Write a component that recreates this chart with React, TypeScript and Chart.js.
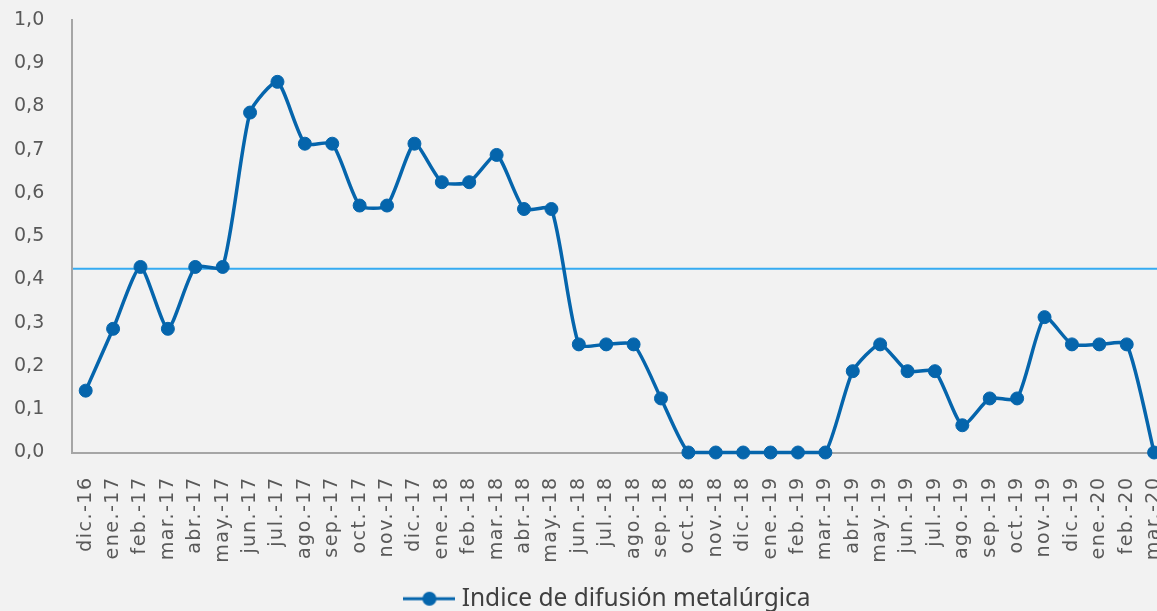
import React, { useEffect, useRef } from 'react';
import { Chart, registerables } from 'chart.js';

Chart.register(...registerables);

const categories = [
  'dic.-16', 'ene.-17', 'feb.-17', 'mar.-17', 'abr.-17', 'may.-17', 'jun.-17', 'jul.-17',
  'ago.-17', 'sep.-17', 'oct.-17', 'nov.-17', 'dic.-17', 'ene.-18', 'feb.-18', 'mar.-18',
  'abr.-18', 'may.-18', 'jun.-18', 'jul.-18', 'ago.-18', 'sep.-18', 'oct.-18', 'nov.-18',
  'dic.-18', 'ene.-19', 'feb.-19', 'mar.-19', 'abr.-19', 'may.-19', 'jun.-19', 'jul.-19',
  'ago.-19', 'sep.-19', 'oct.-19', 'nov.-19', 'dic.-19', 'ene.-20', 'feb.-20', 'mar.-20',
];

const indiceValues = [
  0.143, 0.286, 0.429, 0.286, 0.429, 0.429, 0.786, 0.857,
  0.714, 0.714, 0.571, 0.571, 0.714, 0.625, 0.625, 0.688,
  0.563, 0.563, 0.25, 0.25, 0.25, 0.125, 0, 0,
  0, 0, 0, 0, 0.188, 0.25, 0.188, 0.188,
  0.063, 0.125, 0.125, 0.313, 0.25, 0.25, 0.25, 0,
];

const seriesName = 'Indice de difusión metalúrgica';
const referenceValue = 0.425;
const yMin = 0;
const yMax = 1;
const yStep = 0.1;

const SERIES_COLOR = '#0565AC';
const REF_COLOR = '#35ABF2';
const AXIS_COLOR = '#A6A6A6';
const TICK_COLOR = '#595959';

const refLinePlugin = {
  id: 'refLine',
  beforeDatasetsDraw(chart: any) {
    const { ctx, chartArea, scales } = chart;
    const y = scales.y.getPixelForValue(referenceValue);
    ctx.save();
    ctx.strokeStyle = REF_COLOR;
    ctx.lineWidth = 2;
    ctx.beginPath();
    ctx.moveTo(chartArea.left + 1, y);
    ctx.lineTo(chartArea.right, y);
    ctx.stroke();
    ctx.restore();
  },
};

// widen the rotated category labels a little (Excel-like spacing) and centre the legend
const tweakPlugin = {
  id: 'tweaks',
  afterLayout(chart: any) {
    const sc = chart.scales.x;
    if (sc && !sc.__wrapped) {
      const orig = sc.drawLabels.bind(sc);
      sc.drawLabels = (area: any) => {
        const c = chart.ctx as any;
        const prev = c.letterSpacing;
        c.letterSpacing = '1.5px';
        orig(area);
        c.letterSpacing = prev || '0px';
      };
      sc.__wrapped = true;
    }
    const L = chart.legend;
    if (L) {
      const d = 610 - (L.left + L.right) / 2;
      L.left += d;
      L.right += d;
    }
  },
};

function makeLegendMarker(): HTMLCanvasElement {
  const c = document.createElement('canvas');
  c.width = 52;
  c.height = 16;
  const g = c.getContext('2d')!;
  g.strokeStyle = SERIES_COLOR;
  g.lineWidth = 3;
  g.beginPath();
  g.moveTo(0, 8);
  g.lineTo(52, 8);
  g.stroke();
  g.fillStyle = SERIES_COLOR;
  g.beginPath();
  g.arc(26, 8, 7, 0, Math.PI * 2);
  g.fill();
  return c;
}

export default function App() {
  const ref = useRef<HTMLCanvasElement | null>(null);

  useEffect(() => {
    if (!ref.current) return;
    const marker = makeLegendMarker();
    const chart = new Chart(ref.current, {
      type: 'line',
      data: {
        labels: categories,
        datasets: [
          {
            label: seriesName,
            data: indiceValues,
            borderColor: SERIES_COLOR,
            backgroundColor: SERIES_COLOR,
            borderWidth: 3.5,
            pointRadius: 6.5,
            pointBorderWidth: 1,
            pointBackgroundColor: SERIES_COLOR,
            pointBorderColor: SERIES_COLOR,
            tension: 0.2,
            clip: false as any,
            fill: false,
          },
        ],
      },
      options: {
        responsive: false,
        animation: false,
        devicePixelRatio: 1,
        layout: { padding: { left: 14, right: 0, top: 20, bottom: 0 } },
        plugins: {
          legend: {
            position: 'bottom',
            labels: {
              usePointStyle: true,
              pointStyle: marker as any,
              pointStyleWidth: 40,
              padding: 10,
              color: '#404040',
              font: { family: 'Noto Sans', size: 24.5 },
            },
          },
          tooltip: { enabled: false },
        },
        scales: {
          x: {
            offset: true,
            grid: { display: false, drawTicks: false },
            border: { display: true, color: AXIS_COLOR, width: 2 },
            ticks: {
              autoSkip: false,
              minRotation: 90,
              maxRotation: 90,
              padding: 24,
              color: TICK_COLOR,
              font: { family: 'DejaVu Sans', size: 19 },
            },
            afterFit(scale: any) {
              scale.height = 124;
            },
          },
          y: {
            min: yMin,
            max: yMax,
            grid: { display: false, drawTicks: false },
            border: { display: true, color: AXIS_COLOR, width: 2 },
            ticks: {
              stepSize: yStep,
              padding: 3,
              crossAlign: 'far',
              color: TICK_COLOR,
              font: { family: 'DejaVu Sans', size: 19 },
              callback: (v: any) => Number(v).toFixed(1).replace('.', ','),
            },
            afterFit(scale: any) {
              scale.width = 58;
            },
          },
        },
      },
      plugins: [refLinePlugin, tweakPlugin],
    });
    return () => chart.destroy();
  }, []);

  return (
    <div
      style={{
        position: 'fixed',
        left: 0,
        top: 0,
        width: 1157,
        height: 611,
        overflow: 'hidden',
        background: '#F2F2F2',
      }}
    >
      <canvas ref={ref} width={1201} height={621} style={{ display: 'block', width: 1201, height: 621 }} />
    </div>
  );
}
